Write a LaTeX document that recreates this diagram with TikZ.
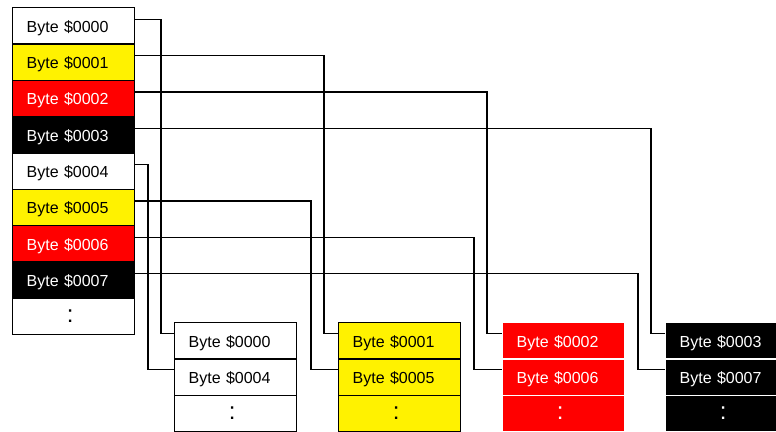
\documentclass[tikz,border=0pt]{standalone}
\usepackage{fontspec}
\setmainfont{Liberation Sans}
\begin{document}
\begin{tikzpicture}[x=1pt,y=-1pt,
  cell/.style={draw=black, line width=1.4pt, minimum width=122pt, minimum height=36.3pt,
    inner sep=0pt, text width=94pt, align=left, anchor=north west,
    text height=13pt, text depth=0pt,
    font=\fontsize{16}{18}\selectfont},
  dots/.style={cell, align=center, font=\fontsize{24}{24}\selectfont,
    text height=12.5pt, text depth=0pt},
  wcell/.style={fill=white, text=black},
  ycell/.style={fill=yellow, text=black},
  rcell/.style={fill=red, text=white},
  kcell/.style={fill=black, text=white},
  conn/.style={draw=black, line width=1.3pt}]
\useasboundingbox (0,0) rectangle (776,431);
% left column
\node[cell,wcell] (L0) at (12,7) {Byte \$0000};
\node[cell,ycell] (L1) at (12,43.3) {Byte \$0001};
\node[cell,rcell] (L2) at (12,79.6) {Byte \$0002};
\node[cell,kcell] (L3) at (12,115.9) {Byte \$0003};
\node[cell,wcell] (L4) at (12,152.2) {Byte \$0004};
\node[cell,ycell] (L5) at (12,188.5) {Byte \$0005};
\node[cell,rcell] (L6) at (12,224.8) {Byte \$0006};
\node[cell,kcell] (L7) at (12,261.1) {Byte \$0007};
\node[dots,wcell] (L8) at (12,297.4) {:\hspace*{7pt}};
% bottom blocks
\node[cell,wcell] (B00) at (174,322) {Byte \$0000};
\node[cell,wcell] (B01) at (174,358.3) {Byte \$0004};
\node[dots,wcell] (B02) at (174,394.6) {:\hspace*{7pt}};
\node[cell,ycell] (B10) at (338,322) {Byte \$0001};
\node[cell,ycell] (B11) at (338,358.3) {Byte \$0005};
\node[dots,ycell] (B12) at (338,394.6) {:\hspace*{7pt}};
\node[cell,rcell,draw=white] (B20) at (502,322) {Byte \$0002};
\node[cell,rcell,draw=white] (B21) at (502,358.3) {Byte \$0006};
\node[dots,rcell,draw=white] (B22) at (502,394.6) {:\hspace*{7pt}};
\node[cell,kcell,draw=white] (B30) at (665,322) {Byte \$0003};
\node[cell,kcell,draw=white] (B31) at (665,358.3) {Byte \$0007};
\node[dots,kcell,draw=white] (B32) at (665,394.6) {:\hspace*{7pt}};
% vertical routes
\coordinate (v0) at (161,0);
\coordinate (v1) at (324,0);
\coordinate (v2) at (487,0);
\coordinate (v3) at (651,0);
\coordinate (v4) at (148,0);
\coordinate (v5) at (311,0);
\coordinate (v6) at (474,0);
\coordinate (v7) at (638,0);
% connectors
\foreach \i/\b/\s in {0/0/0,1/1/0,2/2/0,3/3/0,4/0/1,5/1/1,6/2/1,7/3/1}{
  \coordinate (s\i) at ([yshift=-12.5pt]L\i.north east);
  \coordinate (t\i) at ([yshift=-11.5pt]B\b\s.north west);
  \draw[conn] (s\i) -- (s\i -| v\i) -- (v\i |- t\i) -- (t\i);
}
\end{tikzpicture}
\end{document}
